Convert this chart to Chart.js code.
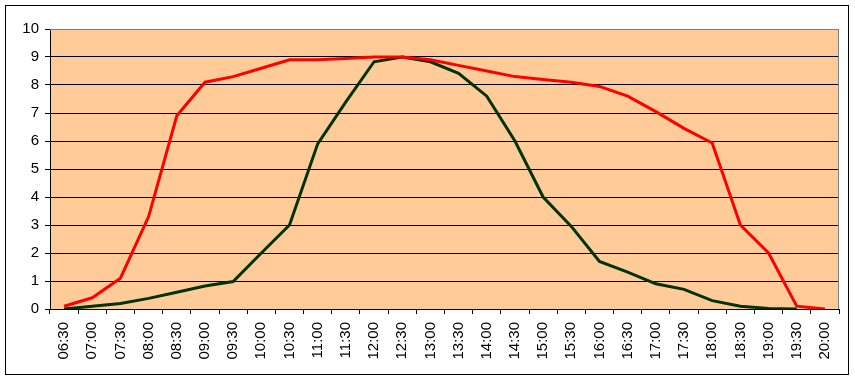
<!DOCTYPE html>
<html>
<head>
<meta charset="utf-8">
<script src="https://cdn.jsdelivr.net/npm/chart.js@4/dist/chart.umd.min.js"></script>
<style>
html,body{margin:0;padding:0;background:#fff;}
#wrap{position:relative;width:855px;height:381px;}
</style>
</head>
<body>
<div id="wrap"><canvas id="c" width="855" height="381"></canvas></div>
<script>
const categories = ["06:30","07:00","07:30","08:00","08:30","09:00","09:30","10:00","10:30","11:00","11:30","12:00","12:30","13:00","13:30","14:00","14:30","15:00","15:30","16:00","16:30","17:00","17:30","18:00","18:30","19:00","19:30","20:00"];
const redSeries = [0.1,0.4,1.1,3.3,6.9,8.1,8.3,8.6,8.9,8.9,8.95,9.0,9.0,8.9,8.7,8.5,8.3,8.2,8.1,7.95,7.6,7.05,6.45,5.93,3.0,2.0,0.1,0.0];
const greenSeries = [0.0,0.1,0.2,0.38,0.6,0.82,0.98,2.0,3.0,5.9,7.4,8.83,9.0,8.83,8.42,7.6,6.0,4.0,2.95,1.7,1.32,0.9,0.7,0.3,0.1,0.02,0.0,null];
const yTicks = [0,1,2,3,4,5,6,7,8,9,10];

const frame = {
  id: 'frame',
  beforeDraw(chart) {
    const {ctx, chartArea: a} = chart;
    ctx.save();
    ctx.fillStyle = '#ffffff';
    ctx.fillRect(0, 0, chart.width, chart.height);
    ctx.fillStyle = '#FFCC99';
    ctx.fillRect(a.left, a.top, a.right - a.left, a.bottom - a.top);
    ctx.strokeStyle = '#000000';
    ctx.lineWidth = 1;
    ctx.strokeRect(5.5, 5.5, 843, 369);
    ctx.restore();
  },
  beforeDatasetsDraw(chart) {
    const {ctx, chartArea: a} = chart;
    ctx.save();
    ctx.strokeStyle = '#808080';
    ctx.lineWidth = 1;
    ctx.beginPath();
    ctx.moveTo(a.left, a.top + 0.5);
    ctx.lineTo(a.right - 0.5, a.top + 0.5);
    ctx.lineTo(a.right - 0.5, a.bottom);
    ctx.stroke();
    ctx.restore();
  }
};

new Chart(document.getElementById('c'), {
  type: 'line',
  data: {
    labels: categories,
    datasets: [
      {data: redSeries, borderColor: '#FF0000', borderWidth: 3, pointRadius: 0, tension: 0, fill: false},
      {data: greenSeries, borderColor: '#003300', borderWidth: 3, pointRadius: 0, tension: 0, fill: false, spanGaps: false}
    ]
  },
  options: {
    responsive: false,
    animation: false,
    events: [],
    layout: {padding: {left: 0, top: 29, right: 16, bottom: 0}},
    plugins: {legend: {display: false}, tooltip: {enabled: false}, title: {display: false}},
    scales: {
      x: {
        type: 'category',
        offset: true,
        afterFit(s) { s.height = 72; },
        grid: {offset: true, drawOnChartArea: false, drawTicks: true, tickLength: 5, tickColor: '#000', color: '#000'},
        border: {color: '#000', width: 1},
        ticks: {minRotation: 90, maxRotation: 90, autoSkip: false, padding: 8, color: '#000', font: {family: 'Liberation Sans, Arial', size: 15}}
      },
      y: {
        min: 0, max: 10,
        afterFit(s) { s.width = 50; },
        afterBuildTicks(s) { s.ticks = yTicks.map(v => ({value: v})); },
        grid: {color: (c) => c.tick && c.tick.value === 10 ? '#808080' : '#000', lineWidth: 1, drawTicks: true, tickLength: 5, tickColor: '#000'},
        border: {color: '#000', width: 1},
        ticks: {stepSize: 1, padding: 6, color: '#000', font: {family: 'Liberation Sans, Arial', size: 15}}
      }
    }
  },
  plugins: [frame]
});
</script>
</body>
</html>
